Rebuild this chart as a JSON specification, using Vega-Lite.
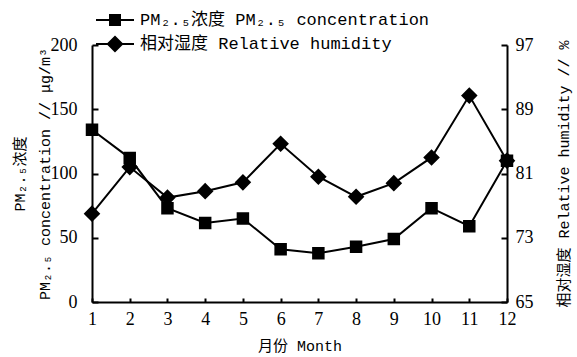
{
  "$schema": "https://vega.github.io/schema/vega-lite/v6.json",
  "width": 415,
  "height": 257,
  "autosize": {"type": "none"},
  "padding": {"left": 92, "top": 45, "right": 70, "bottom": 55},
  "background": "white",
  "config": {
    "view": {"stroke": null},
    "axis": {
      "domainColor": "black", "domainWidth": 2, "tickColor": "black", "tickWidth": 2,
      "labelFont": "Liberation Serif", "labelFontSize": 18, "labelColor": "black",
      "titleFont": "Liberation Mono, Noto Sans CJK SC", "titleFontSize": 15, "titleFontWeight": "normal", "titleColor": "black",
      "grid": false
    },
    "legend": {
      "labelFont": "Liberation Mono, Noto Sans CJK SC", "labelFontSize": 17, "labelColor": "black", "padding": 0, "labelLimit": 500
    }
  },
  "data": {
    "values": [
      {"month": 1, "pm": 134, "rh": 76.0},
      {"month": 2, "pm": 112, "rh": 81.8},
      {"month": 3, "pm": 73, "rh": 78.0},
      {"month": 4, "pm": 61.5, "rh": 78.8},
      {"month": 5, "pm": 65, "rh": 79.9},
      {"month": 6, "pm": 41, "rh": 84.7},
      {"month": 7, "pm": 38, "rh": 80.6},
      {"month": 8, "pm": 43, "rh": 78.1},
      {"month": 9, "pm": 49, "rh": 79.8},
      {"month": 10, "pm": 73, "rh": 83.0},
      {"month": 11, "pm": 59, "rh": 90.7},
      {"month": 12, "pm": 110, "rh": 82.6}
    ]
  },
  "encoding": {
    "x": {
      "field": "month", "type": "quantitative",
      "scale": {"domain": [1, 12], "nice": false, "zero": false},
      "axis": {"values": [1,2,3,4,5,6,7,8,9,10,11,12], "title": "月份 Month", "tickSize": -4, "labelPadding": 12, "titlePadding": 10, "labelFlush": false}
    }
  },
  "layer": [
    {
      "mark": {"type": "line", "color": "black", "strokeWidth": 2, "point": {"shape": "square", "size": 110, "filled": true, "color": "black"}},
      "encoding": {
        "y": {
          "field": "pm", "type": "quantitative",
          "scale": {"domain": [0, 200], "nice": false},
          "axis": {"values": [0, 50, 100, 150, 200], "orient": "left", "tickSize": -6, "labelPadding": 21,
                   "title": ["PM₂.₅浓度", "PM₂.₅ concentration // μg/m³"], "titlePadding": -2, "titleLineHeight": 25}
        },
        "stroke": {
          "datum": "PM₂.₅浓度 PM₂.₅ concentration",
          "scale": {"range": ["black"]},
          "legend": {"orient": "none", "legendX": 10, "legendY": -38, "title": null,
                     "symbolType": "M-1.6,0H1.6M-0.42,-0.42H0.42V0.42H-0.42Z", "symbolSize": 564,
                     "symbolStrokeWidth": 2, "symbolFillColor": "black", "symbolStrokeColor": "black", "labelOffset": 12}
        }
      }
    },
    {
      "mark": {"type": "line", "color": "black", "strokeWidth": 2, "point": {"shape": "diamond", "size": 190, "filled": true, "color": "black"}},
      "encoding": {
        "y": {
          "field": "rh", "type": "quantitative",
          "scale": {"domain": [65, 97], "nice": false, "zero": false},
          "axis": {"values": [65, 73, 81, 89, 97], "orient": "right", "tickSize": -6, "labelPadding": 14,
                   "title": "相对湿度 Relative humidity // %", "titleAngle": 270, "titlePadding": 38}
        },
        "stroke": {
          "datum": "相对湿度 Relative humidity",
          "scale": {"range": ["black"]},
          "legend": {"orient": "none", "legendX": 10, "legendY": -14, "title": null,
                     "symbolType": "M-1.6,0H1.6M-0.6,0L0,-0.6L0.6,0L0,0.6Z", "symbolSize": 564,
                     "symbolStrokeWidth": 2, "symbolFillColor": "black", "symbolStrokeColor": "black", "labelOffset": 12}
        }
      }
    }
  ],
  "resolve": {"scale": {"y": "independent", "stroke": "independent"}, "legend": {"stroke": "independent"}}
}
